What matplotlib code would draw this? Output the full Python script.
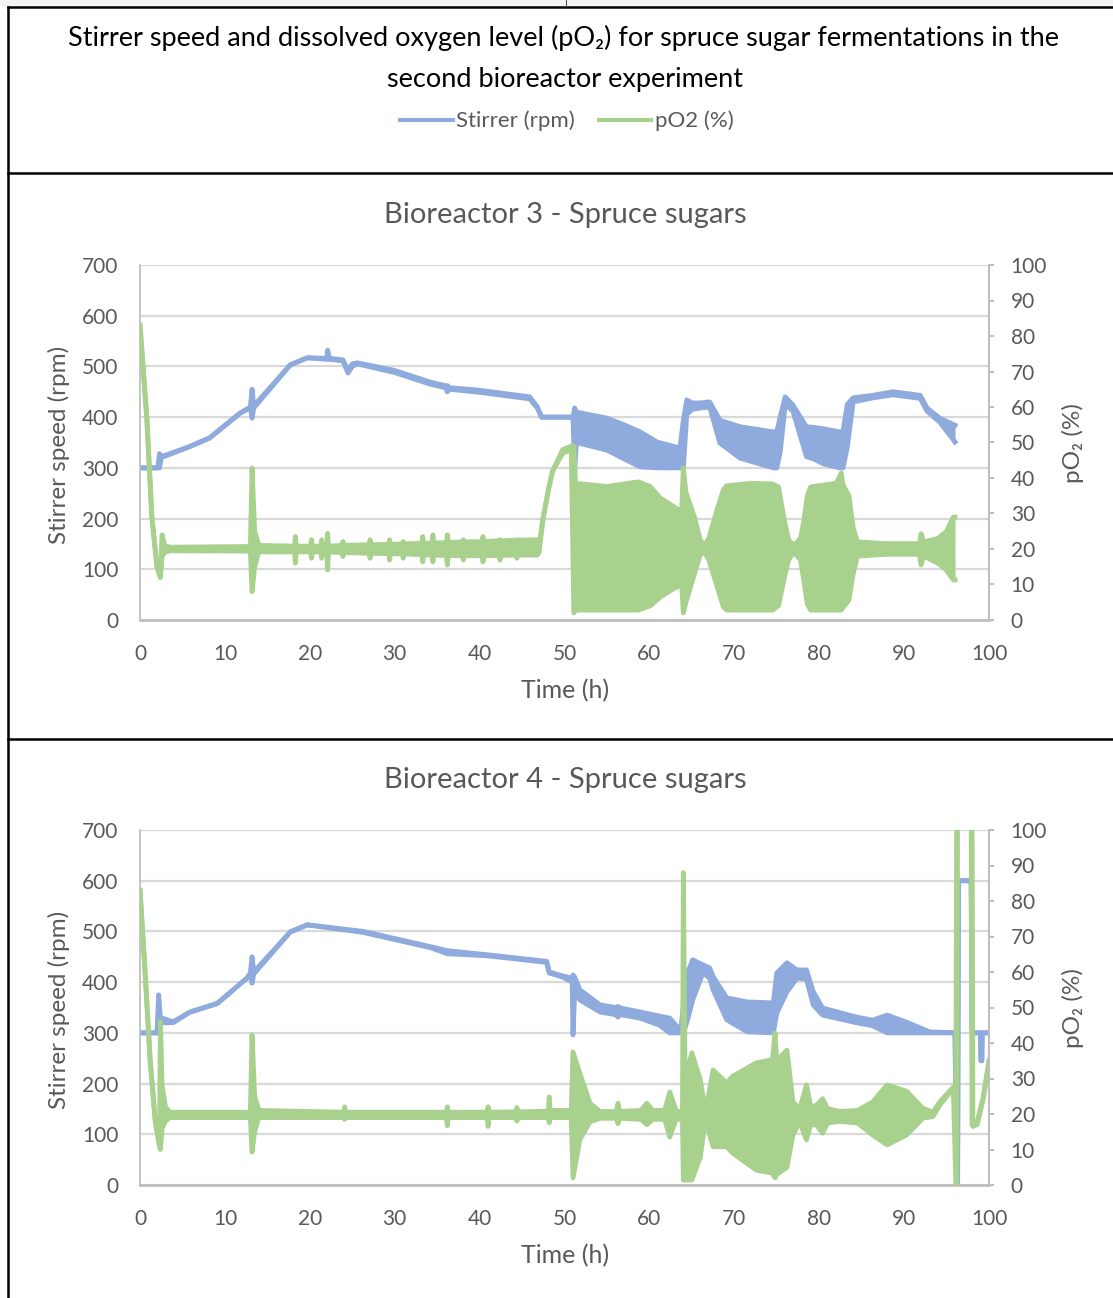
import matplotlib
matplotlib.use("Agg")
import matplotlib.pyplot as plt
import numpy as np
from matplotlib.lines import Line2D
from matplotlib.patches import Rectangle

plt.rcParams['font.family'] = ['Lato', 'DejaVu Sans']

BLUE = '#8faadc'
GREEN = '#a9d18e'
TXT = '#595959'
GRID = '#d9d9d9'
AXIS = '#bfbfbf'

# (time h, upper, lower) - upper/lower differ where the signal oscillates
br3_stirrer = [
    (0, 300, 300), (2.1, 300, 300), (2.3, 328, 300), (2.5, 322, 320),
    (5.7, 341, 341), (8.2, 359, 359), (11.8, 408, 408), (13.0, 420, 418),
    (13.2, 455, 398), (13.4, 422, 418), (17.7, 503, 503), (19.7, 517, 517),
    (22.0, 516, 514), (22.1, 532, 514), (22.3, 516, 514), (23.9, 513, 511),
    (24.5, 492, 487), (25.0, 505, 500), (25.6, 507, 505), (30.0, 492, 488),
    (34.2, 469, 465), (36.0, 462, 458), (36.2, 462, 450), (36.5, 458, 455),
    (40.0, 453, 449), (45.9, 440, 436), (46.8, 420, 418), (47.3, 400, 400),
    (51.0, 400, 400), (51.2, 418, 296), (51.4, 410, 350), (55.0, 398, 335),
    (57.0, 385, 318), (58.9, 371, 302), (60.9, 351, 300), (63.6, 339, 300),
    (64.0, 394, 300), (64.4, 434, 405), (65.0, 428, 415), (66.0, 428, 418),
    (67.1, 430, 420), (68.3, 394, 349), (70.7, 381, 319), (74.6, 371, 300),
    (75.0, 371, 300), (75.4, 400, 330), (76.0, 440, 425), (76.9, 424, 412),
    (78.5, 381, 322), (79.3, 380, 318), (80.5, 377, 308), (82.4, 371, 300),
    (82.8, 371, 300), (83.3, 425, 340), (84.0, 438, 430), (86.3, 443, 438),
    (88.7, 450, 444), (91.9, 443, 437), (92.7, 418, 412), (94.2, 398, 390),
    (96.0, 384, 351),
]

br3_po2 = [
    (0, 83, 83), (0.8, 57, 57), (1.4, 29, 29), (2.0, 15, 15), (2.4, 12, 12),
    (2.6, 24, 18), (2.9, 21, 19), (3.5, 20.5, 19.5), (13.0, 20.7, 19.4),
    (13.2, 42.8, 8), (13.5, 25, 15), (14.0, 21, 19.2), (18.2, 20.8, 19.2),
    (18.3, 23.5, 16.0), (18.4, 20.8, 19.2), (20.1, 20.8, 19.2), (20.2, 22.6, 17.4),
    (20.3, 20.8, 19.2), (21.3, 20.8, 19.2), (21.4, 22.6, 17.4), (21.5, 20.8, 19.2),
    (22.0, 20.8, 19.2), (22.1, 24.4, 14.1), (22.2, 20.8, 19.2), (23.8, 21, 19),
    (23.9, 22.1, 17.9), (24.0, 21, 19), (27.0, 21.2, 18.8), (27.1, 22.6, 17.4),
    (27.2, 21.2, 18.8), (29.3, 21.3, 18.7), (29.4, 22.6, 16.9), (29.5, 21.3, 18.7),
    (30.9, 21.4, 18.6), (31.0, 22.1, 17.4), (31.1, 21.4, 18.6), (33.2, 21.6, 18.4),
    (33.3, 23.5, 16.4), (33.4, 21.6, 18.4), (34.4, 21.7, 18.3), (34.5, 24, 16.4),
    (34.6, 21.7, 18.3), (36.1, 21.8, 18.2), (36.2, 24, 15.5), (36.3, 21.8, 18.2),
    (38.0, 22, 18.1), (38.1, 22.6, 16.9), (38.2, 22, 18.1), (40.3, 22.1, 18.1),
    (40.4, 23.5, 16.4), (40.5, 22.1, 18.1), (42.3, 22.3, 18.2), (42.4, 22.6, 16.9),
    (42.5, 22.3, 18.2), (44.3, 22.5, 18.3), (44.4, 22.6, 17.4), (44.5, 22.5, 18.3),
    (46.8, 22.6, 18.3), (47.0, 21, 19),
    (47.5, 29, 29), (48.1, 36.6, 36.6), (48.6, 42, 42), (49.8, 48, 47),
    (50.8, 49, 48), (51.1, 49, 2), (51.3, 38.5, 2.8), (55.0, 37.6, 2.8),
    (58.7, 38.9, 2.8), (60.1, 37.6, 4.0), (61.3, 34.3, 6.5), (62.9, 31.9, 8.9),
    (63.8, 30.5, 9.9), (64.0, 42.8, 2.0), (64.3, 36, 5), (65.3, 29, 13),
    (66.0, 22.5, 18.5), (66.5, 21, 19), (67.0, 23, 17), (67.9, 30.5, 10),
    (68.7, 36.6, 3.8), (69.1, 37.8, 2.8), (72.0, 38.5, 2.8), (74.5, 38.3, 2.8),
    (75.2, 37.5, 4), (75.9, 28, 12), (76.4, 22.5, 17), (77.0, 21, 19),
    (77.8, 23, 17), (78.2, 28, 11), (78.6, 35, 4.5), (79.0, 37.5, 2.8),
    (82.0, 38.5, 2.8), (82.6, 41.4, 2.8), (82.8, 38.0, 3.5), (83.5, 35, 5.6),
    (84.0, 26, 13), (84.5, 22, 18), (88.0, 21.5, 18.5), (91.8, 21.5, 18.5),
    (92.0, 24.3, 15.5), (92.3, 22, 18), (94.0, 23, 16), (95.0, 25, 14),
    (95.8, 29, 11.3), (96.0, 29, 11.3),
]

br4_stirrer = [
    (0, 300, 300), (2.0, 300, 300), (2.2, 375, 300), (2.4, 330, 320),
    (3.9, 322, 320), (5.9, 341, 341), (9.1, 358, 358), (12.6, 408, 408),
    (13.0, 418, 416), (13.2, 450, 398), (13.4, 420, 416), (17.7, 499, 499),
    (19.7, 513, 513), (26.3, 500, 498), (34.2, 470, 468), (36.2, 462, 456),
    (40.9, 454, 452), (47.9, 441, 439), (48.2, 420, 418), (49.8, 412, 410),
    (50.9, 408, 400), (51.0, 414, 296), (51.2, 410, 380), (51.8, 385, 365),
    (54.2, 355, 341), (56.0, 350, 336), (56.3, 352, 331), (56.6, 349, 336),
    (58.9, 341, 329), (61.2, 333, 315), (62.4, 329, 300), (63.7, 304, 300),
    (64.0, 355, 300), (64.5, 418, 326), (65.1, 444, 365), (66.3, 434, 418),
    (67.1, 428, 408), (67.5, 411, 385), (69.1, 369, 326), (71.5, 361, 302),
    (74.6, 359, 300), (75.0, 418, 339), (76.2, 438, 381), (77.4, 424, 408),
    (78.5, 424, 406), (79.3, 381, 355), (80.4, 349, 335), (84.4, 331, 320),
    (86.3, 325, 314), (88.0, 335, 300), (90.3, 321, 300), (93.0, 302, 300),
    (96.0, 300, 300), (96.2, 0, 0), (96.3, 0, 0), (96.4, 600, 600),
    (97.9, 600, 600), (98.0, 300, 300), (99.0, 300, 300), (99.05, 245, 245),
    (99.15, 245, 245), (99.2, 300, 300), (100, 300, 300),
]

br4_po2 = [
    (0, 83, 83), (0.6, 60, 60), (1.2, 35, 35), (1.8, 18, 18), (2.3, 11, 11),
    (2.4, 46, 10), (2.6, 28, 16), (3.0, 22, 18), (3.5, 20.5, 19),
    (13.0, 20.5, 19), (13.2, 42.3, 9.3), (13.5, 25, 15), (14.0, 21, 19),
    (24.0, 20.5, 19), (24.1, 22, 18.5), (24.2, 20.5, 19), (36.1, 20.5, 19),
    (36.2, 22, 16.7), (36.3, 20.5, 19), (40.9, 20.5, 19), (41.0, 22, 16.5),
    (41.1, 20.5, 19), (44.3, 20.6, 19), (44.4, 21.8, 18), (44.5, 20.6, 19),
    (48.1, 20.8, 19), (48.2, 24.8, 17.5), (48.3, 21, 19),
    (50.8, 21, 19), (51.0, 37.5, 2), (51.8, 31.5, 12.7), (53.0, 23, 17.8),
    (54.2, 20.7, 18.8), (56.1, 20.7, 18.8), (56.3, 23, 17.3), (56.5, 20.7, 18.8),
    (59.0, 21, 18.5), (59.7, 23, 17), (60.4, 21, 18.5), (61.8, 21, 18.5),
    (62.4, 26.2, 13.5), (63.2, 20.5, 19), (63.9, 21, 18), (64.0, 88, 1.4),
    (64.2, 30, 1.4), (65.0, 37.2, 1.4), (66.0, 29.6, 7.9), (66.6, 20.4, 18.5),
    (67.5, 32.4, 10.8), (69.1, 28.7, 10.8), (69.8, 30.6, 9.0), (72.6, 34.4, 4.2),
    (74.5, 35.3, 3.3), (74.8, 42.8, 2.0), (75.0, 35, 3), (76.2, 38.0, 5),
    (76.9, 23.4, 14), (77.7, 21.5, 17.8), (78.5, 28.2, 12.7), (79.0, 22, 17),
    (79.7, 22.5, 16.9), (80.4, 24.3, 14.6), (81.0, 21.5, 17.5), (82.4, 20.7, 17.9),
    (84.5, 21, 17.5), (86.3, 23.4, 14.1), (88.0, 28.2, 11.3), (90.3, 26.4, 14.1),
    (92.2, 21.6, 18.8), (93.4, 20.5, 19.3), (94.2, 23.4, 22.5), (95.8, 27.6, 27.3),
    (96.1, 28, 0), (96.2, 110, 0), (96.3, 110, 110), (97.9, 110, 110),
    (98.0, 110, 17), (98.1, 17, 16.5), (98.6, 17.5, 17), (99.3, 24.5, 24),
    (100, 35, 34.6),
]

rpm_ticks = list(range(0, 701, 100))
po2_ticks = list(range(0, 101, 10))
time_ticks = list(range(0, 101, 10))

W, H = 1113, 1298
fig = plt.figure(figsize=(W / 100, H / 100), dpi=100)


def fx(px):
    return px / W


def fy(py):
    return 1 - py / H


def draw_band(ax, rows, color, lw=3.5):
    t, hi, lo = np.array(rows, dtype=float).T
    ax.fill_between(t, lo, hi, color=color, lw=0)
    ax.plot(t, hi, color=color, lw=lw, solid_joinstyle='round')
    ax.plot(t, lo, color=color, lw=lw, solid_joinstyle='round')


def panel(top_px, title, stirrer, po2):
    bottom_px = top_px + 355
    ax = fig.add_axes([fx(140), fy(bottom_px), fx(989) - fx(140), (bottom_px - top_px) / H])
    ax.set_xlim(0, 100)
    ax.set_ylim(0, 700)
    ax.set_xticks(time_ticks)
    ax.set_yticks(rpm_ticks)
    ax.grid(axis='y', color=GRID, lw=1.6)
    ax.set_axisbelow(True)
    for s in ('top', 'right'):
        ax.spines[s].set_visible(False)
    ax.spines['left'].set_color(AXIS)
    ax.spines['left'].set_linewidth(1.3)
    ax.spines['bottom'].set_color(AXIS)
    ax.spines['bottom'].set_linewidth(2.0)
    ax.tick_params(axis='both', length=0, labelcolor=TXT, labelsize=15)
    ax.tick_params(axis='y', pad=15.5)
    ax.tick_params(axis='x', pad=17)
    draw_band(ax, stirrer, BLUE)

    ax2 = ax.twinx()
    ax2.set_ylim(0, 100)
    ax2.set_yticks(po2_ticks)
    for s in ('top', 'left', 'bottom'):
        ax2.spines[s].set_visible(False)
    ax2.spines['right'].set_color(AXIS)
    ax2.spines['right'].set_linewidth(1.5)
    ax2.tick_params(axis='y', length=3.6, width=1.5, color=AXIS, labelcolor=TXT,
                    labelsize=15, pad=12)
    draw_band(ax2, po2, GREEN)

    fig.text(fx(565), fy(top_px - 50), title, ha='center', va='center',
             color=TXT, fontsize=21)
    fig.text(fx(565), fy(bottom_px + 71), 'Time (h)', ha='center', va='center',
             color=TXT, fontsize=18)
    fig.text(fx(59), fy(top_px + 180), 'Stirrer speed (rpm)', ha='center',
             va='center', rotation=90, color=TXT, fontsize=17.5)
    fig.text(fx(1073), fy(top_px + 178), 'pO\u2082 (%)', ha='center',
             va='center', rotation=90, color=TXT, fontsize=17.5)


panel(265, 'Bioreactor 3 - Spruce sugars', br3_stirrer, br3_po2)
panel(830, 'Bioreactor 4 - Spruce sugars', br4_stirrer, br4_po2)

# header
fig.text(fx(564), fy(38), 'Stirrer speed and dissolved oxygen level (pO\u2082) for spruce '
         'sugar fermentations in the', ha='center', va='center', color='black', fontsize=19.5)
fig.text(fx(565), fy(79), 'second bioreactor experiment', ha='center', va='center',
         color='black', fontsize=19.5)
handles = [Line2D([], [], color=BLUE, lw=3), Line2D([], [], color=GREEN, lw=3)]
leg = fig.legend(handles, ['Stirrer (rpm)', 'pO2 (%)'], loc='center',
                 bbox_to_anchor=(fx(567), fy(121)), ncol=2, frameon=False,
                 fontsize=16, handlelength=2.35, handletextpad=0.15, columnspacing=1.1)
for txt in leg.get_texts():
    txt.set_color(TXT)

# page strip above the box and the frame lines around the sections
fig.add_artist(Rectangle((0, fy(6)), 1, 6 / H, transform=fig.transFigure,
                         color='#f3f3f3', lw=0))
for (x0, y0, x1, y1) in [(8, 7, W, 7), (8, 7, 8, H), (8, 173, W, 173), (8, 739, W, 739)]:
    fig.add_artist(Line2D([fx(x0), fx(x1)], [fy(y0), fy(y1)], color='black', lw=1.8,
                          transform=fig.transFigure))
fig.add_artist(Line2D([fx(566), fx(566)], [fy(0), fy(6)], color='#555555', lw=0.8,
                      transform=fig.transFigure))

fig.savefig('out.png', dpi=100)
